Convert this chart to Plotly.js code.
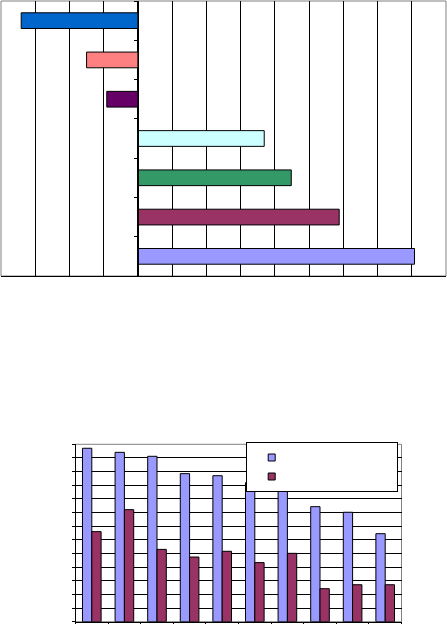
<!DOCTYPE html>
<html>
<head>
<meta charset="utf-8">
<script src="https://cdn.plot.ly/plotly-3.0.1.min.js"></script>
<style>
html,body{margin:0;padding:0;background:#fff;}
#chart{width:447px;height:624px;}
</style>
</head>
<body>
<div id="chart"></div>
<script>
// ---- Top chart (horizontal bars), listed bottom to top ----
const topCategories = ['C1','C2','C3','C4','C5','C6','C7'];
const topValues = [8.08, 5.88, 4.48, 3.69, -0.91, -1.50, -3.41];
const topColors = ['#9999FF','#993366','#339966','#CCFFFF','#660066','#FF8080','#0066CC'];

// ---- Bottom chart (grouped vertical bars) ----
const bottomCategories = ['G1','G2','G3','G4','G5','G6','G7','G8','G9','G10'];
const series1 = [12.71, 12.41, 12.12, 10.85, 10.70, 10.19, 9.90, 8.43, 8.02, 6.45];
const series2 = [6.60, 8.21, 5.30, 4.74, 5.16, 4.33, 5.01, 2.42, 2.71, 2.71];
const seriesColors = ['#9999FF', '#993366'];
const seriesNames = ['\u00a0'.repeat(85), '\u00a0'.repeat(85)];

const W = 447, H = 624;
const topX = [1 / W, 446 / W];
const topY = [(H - 276) / H, (H - 1) / H];
const topRange = [-4, 9];
const zeroPos = topX[0] + (0 - topRange[0]) / (topRange[1] - topRange[0]) * (topX[1] - topX[0]);
const botX = [75.5 / W, 401.5 / W];
const botY = [(H - 621.7) / H, (H - 444.3) / H];

const traces = [
  {
    type: 'bar', orientation: 'h',
    x: topValues, y: topCategories,
    xaxis: 'x', yaxis: 'y',
    width: 0.4,
    marker: {color: topColors, line: {color: '#000', width: 1}},
    showlegend: false, hoverinfo: 'x'
  },
  {
    type: 'bar', x: bottomCategories, y: series1,
    xaxis: 'x2', yaxis: 'y2',
    marker: {color: seriesColors[0], line: {color: '#000', width: 1}},
    showlegend: false
  },
  {
    type: 'bar', x: bottomCategories, y: series2,
    xaxis: 'x2', yaxis: 'y2',
    marker: {color: seriesColors[1], line: {color: '#000', width: 1}},
    showlegend: false
  },
  // legend entries (small square keys)
  {
    type: 'scatter', mode: 'markers', x: [null], y: [null],
    xaxis: 'x2', yaxis: 'y2', name: seriesNames[0],
    marker: {symbol: 'square', size: 7, color: seriesColors[0], line: {color: '#000', width: 1}}
  },
  {
    type: 'scatter', mode: 'markers', x: [null], y: [null],
    xaxis: 'x2', yaxis: 'y2', name: seriesNames[1],
    marker: {symbol: 'square', size: 7, color: seriesColors[1], line: {color: '#000', width: 1}}
  }
];

const layout = {
  width: W, height: H,
  margin: {l: 0, r: 0, t: 0, b: 0},
  paper_bgcolor: '#fff', plot_bgcolor: '#fff',
  barmode: 'group', bargap: 0.4286, bargroupgap: 0,
  font: {family: 'Arial, Liberation Sans, sans-serif', size: 10, color: '#000'},
  xaxis: {
    domain: topX, anchor: 'y', range: topRange, dtick: 1, tick0: 0,
    showgrid: true, gridcolor: '#000', gridwidth: 1, zeroline: false,
    showline: true, linecolor: '#000', linewidth: 1,
    showticklabels: false, ticks: '', fixedrange: true
  },
  yaxis: {
    domain: topY, anchor: 'free', position: zeroPos,
    type: 'category', categoryorder: 'array', categoryarray: topCategories,
    showgrid: false, zeroline: false,
    showline: true, linecolor: '#000', linewidth: 1,
    ticks: 'outside', ticklen: 4, tickcolor: '#000', tickson: 'boundaries',
    showticklabels: false, fixedrange: true
  },
  xaxis2: {
    domain: botX, anchor: 'y2', type: 'category',
    showgrid: false, zeroline: false,
    showline: true, linecolor: '#000', linewidth: 1,
    ticks: 'outside', ticklen: 4, tickcolor: '#000', tickson: 'boundaries',
    showticklabels: false, fixedrange: true
  },
  yaxis2: {
    domain: botY, anchor: 'x2', range: [0, 13], dtick: 1, tick0: 0,
    showgrid: true, gridcolor: '#000', gridwidth: 1, zeroline: false,
    showline: true, linecolor: '#000', linewidth: 1,
    ticks: 'outside', ticklen: 3, tickcolor: '#000',
    showticklabels: false, fixedrange: true
  },
  shapes: [
    {type: 'rect', xref: 'x domain', yref: 'y domain', x0: 0, x1: 1, y0: 0, y1: 1,
     line: {color: '#808080', width: 1}, layer: 'below'},
    {type: 'rect', xref: 'x2 domain', yref: 'y2 domain', x0: 0, x1: 1, y0: 0, y1: 1,
     line: {color: '#808080', width: 1}, layer: 'below'}
  ],
  showlegend: true,
  legend: {
    x: 245.7 / W, y: 1 - 442 / H, xanchor: 'left', yanchor: 'top',
    bgcolor: '#fff', bordercolor: '#000', borderwidth: 1,
    font: {size: 4}, tracegroupgap: 0, itemwidth: 40
  }
};

Plotly.newPlot('chart', traces, layout, {displayModeBar: false, staticPlot: true});
</script>
</body>
</html>
